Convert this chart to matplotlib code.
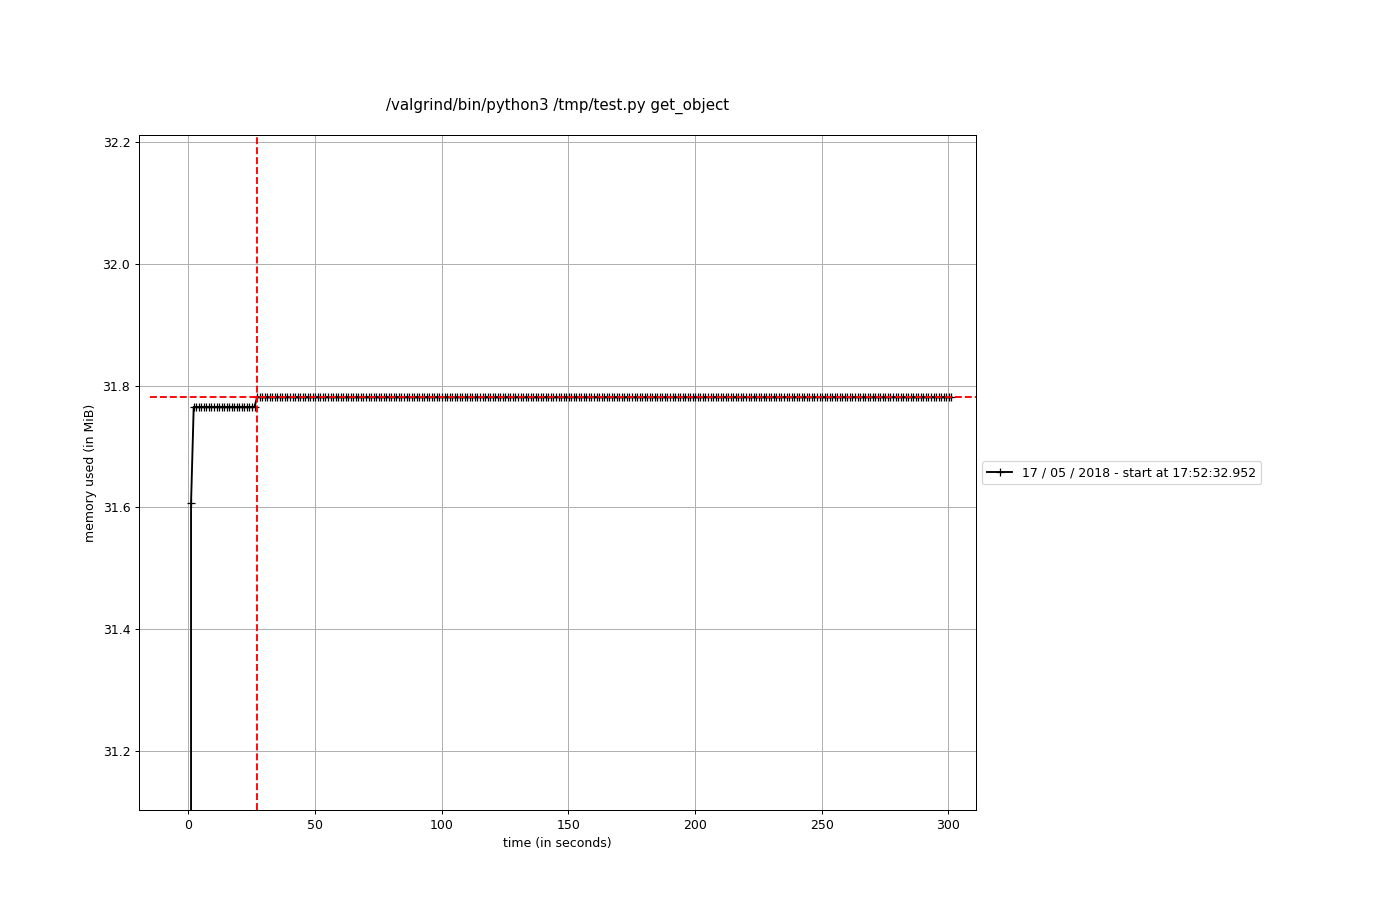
import matplotlib
matplotlib.use("Agg")
import matplotlib.pyplot as plt
import numpy as np

title = "/valgrind/bin/python3 /tmp/test.py get_object"
label = "17 / 05 / 2018 - start at 17:52:32.952"

# sampling: first two samples at start, then ~1 s interval
t_start = [0.95, 1.05]
t_first_regular = 2.1
t_step = 1.0
# memory (MiB): run-length levels
mem_start = [5.0, 31.607]
plateau1_level, plateau1_count = 31.765, 25
plateau2_level, plateau2_count = 31.781, 275

mem = mem_start + [plateau1_level] * plateau1_count + [plateau2_level] * plateau2_count
n_reg = plateau1_count + plateau2_count
t = t_start + [t_first_regular + i * t_step for i in range(n_reg)]
t = np.array(t)
mem = np.array(mem)

xlim = (-19.5, 310.9)
ylim = (31.103, 32.2115)

DPI = 90
fig = plt.figure(figsize=(1394 / DPI, 900 / DPI), dpi=DPI)
ax = fig.add_axes([0.0997, 0.1, 0.6005, 0.75])
ax.plot(t, mem, "+-", color="k", label=label)

max_ind = int(np.argmax(mem))
ax.set_xlim(*xlim)
ax.set_ylim(*ylim)
ax.hlines(mem[max_ind], -15.2, 316, colors="r", linestyles="--", clip_on=True)
ax.vlines(t[max_ind], ylim[0], ylim[1], colors="r", linestyles="--")
ax.set_xlim(*xlim)
ax.set_ylim(*ylim)

ax.grid(True)
ax.set_xlabel("time (in seconds)")
ax.set_ylabel("memory used (in MiB)")
ax.set_title(title, pad=20.5)
ax.legend(loc="center left", bbox_to_anchor=(1, 0.5))

fig.savefig("out.png", dpi=DPI)
